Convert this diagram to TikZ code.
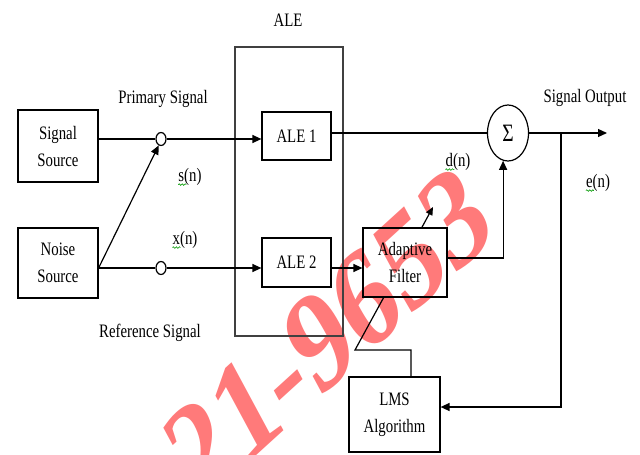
\documentclass[tikz,border=0pt]{standalone}
\usepackage{fontspec}
\setmainfont{Liberation Serif}[FakeStretch=0.78]
\newfontfamily\wmfont{Liberation Serif}
\usetikzlibrary{arrows.meta,calc,decorations.pathmorphing,shapes.geometric}
\begin{document}
\begin{tikzpicture}[x=1pt,y=-1pt,
  box/.style={draw, line width=1.2pt, inner sep=0, align=center, font=\fontsize{19}{27}\selectfont},
  lbl/.style={inner sep=0, font=\fontsize{19}{21}\selectfont},
  arr/.style={line width=1.2pt, -{Triangle[length=9pt,width=8pt]}},
  ln/.style={line width=1.2pt},
  junc/.style={draw, ellipse, line width=1.2pt, minimum width=10pt, minimum height=13pt, inner sep=0},
  squig/.style={draw=green!60!black, line width=0.6pt, decorate, decoration={snake, segment length=3pt, amplitude=0.8pt}},
  wm/.style={text=red!52, inner sep=0, font=\wmfont\bfseries\fontsize{110}{110}\selectfont}
]
\path[use as bounding box, clip] (0,0) rectangle (640,455);
\fill[white] (0,0) rectangle (640,455);
\begin{scope}[shift={(328,334)}, yscale=1.3, rotate=35]
  \node[wm, transform shape] (wm) at (0,0) {21-9653};
\end{scope}

\node[box, minimum width=80pt, minimum height=72pt] (sig) at (58,146) {Signal\\Source};
\node[box, minimum width=80pt, minimum height=70pt] (noise) at (58,263) {Noise\\Source};
\node[junc] (c1) at (161,139) {};
\node[junc] (c2) at (161,268) {};
\node[draw=black!75, line width=1.8pt, minimum width=108pt, minimum height=289pt, inner sep=0] (alebox) at (289,191.5) {};
\node[lbl] (alelbl) at (288,20) {ALE};
\node[box, minimum width=69pt, minimum height=48pt] (ale1) at (296.5,136) {ALE 1};
\node[box, minimum width=69pt, minimum height=49pt] (ale2) at (296.5,262.5) {ALE 2};
\node[box, minimum width=84pt, minimum height=69pt] (af) at (405,262.5) {Adaptive\\Filter};
\node[draw, ellipse, line width=1.2pt, minimum width=41pt, minimum height=56pt, inner sep=0, font=\fontsize{25}{25}\selectfont] (sum) at (508,133) {Σ};
\node[box, minimum width=91pt, minimum height=75pt] (lms) at (394.5,414.5) {LMS\\Algorithm};

\draw[ln] (c1.west -| sig.east) -- (c1.west);
\draw[arr] (c1.east) -- (c1.east -| ale1.west);
\draw[ln] (c2.west -| noise.east) -- (c2.west);
\draw[arr] (c2.west -| noise.east) -- (c1.250);
\draw[arr] (c2.east) -- (c2.east -| ale2.west);
\draw[arr] (c2 -| ale2.east) -- (c2 -| af.west);
\draw[ln] (sum.west -| ale1.east) -- (sum.west);
\draw[arr] ($(af.east)+(0,-4.5)$) -| (sum.260);
\coordinate (out) at (607,133);
\draw[arr] (sum.east) -- (out);
\coordinate (tap) at (561,133);
\draw[arr, line width=1.4pt] (tap) |- ($(lms.east)+(0,-7.5)$);
\coordinate (d0) at (355,350);
\coordinate (d1) at (433,207);
\draw[ln] ($(lms.north)+(16.5,0)$) |- (d0) -- (intersection of d0--d1 and af.south west--af.south east);
\draw[line width=1.2pt, -{Triangle[length=8pt,width=7pt]}] (intersection of d0--d1 and af.north west--af.north east) -- (d1);

\node[lbl] (prim) at (163,99) {Primary Signal};
\node[lbl] (sn) at (190,177) {s(n)};
\node[lbl] (xn) at (185,240) {x(n)};
\node[lbl] (ref) at (150,333) {Reference Signal};
\node[lbl] (dn) at (458,162) {d(n)};
\node[lbl] (so) at (585,98) {Signal Output};
\node[lbl] (en) at (598,183) {e(n)};

\draw[squig] ($(sn.base west)+(0,3)$) -- ++(8,0);
\draw[squig] ($(xn.base west)+(0,3)$) -- ++(8,0);
\draw[squig] ($(dn.base west)+(0,3)$) -- ++(9,0);
\draw[squig] ($(en.base west)+(0,3)$) -- ++(8,0);
\end{tikzpicture}
\end{document}
